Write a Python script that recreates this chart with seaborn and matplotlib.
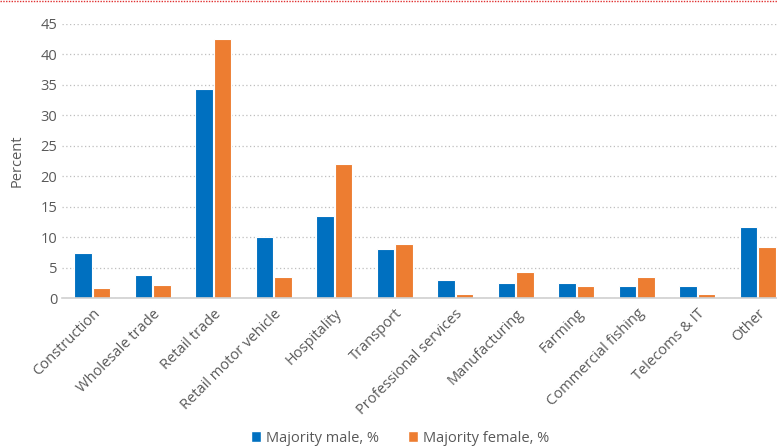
import pandas as pd
import numpy as np
import seaborn as sns
import matplotlib.pyplot as plt
from matplotlib.lines import Line2D
from matplotlib.patches import Patch

# data
categories = ['Construction', 'Wholesale trade', 'Retail trade', 'Retail motor vehicle',
              'Hospitality', 'Transport', 'Professional services', 'Manufacturing',
              'Farming', 'Commercial fishing', 'Telecoms & IT', 'Other']
male = [7.4, 3.8, 34.3, 10.0, 13.4, 8.1, 3.0, 2.4, 2.4, 1.9, 1.9, 11.7]
female = [1.7, 2.1, 42.5, 3.4, 22.0, 8.9, 0.6, 4.3, 2.0, 3.5, 0.6, 8.3]
series = ['Majority male, %', 'Majority female, %']
colors = ['#0070C0', '#ED7D31']

df = pd.DataFrame({'category': categories * 2,
                   'value': male + female,
                   'series': [series[0]] * len(categories) + [series[1]] * len(categories)})

sns.set_style('white')
plt.rcParams['font.family'] = ['Open Sans', 'DejaVu Sans']
txt = '#595959'

fig = plt.figure(figsize=(7.77, 4.47), dpi=100)
ax = fig.add_axes([62 / 777, 149 / 447, 726 / 777, 274 / 447])

sns.barplot(data=df, x='category', y='value', hue='series', palette=colors,
            saturation=1, width=0.62, gap=0.06, edgecolor='white', linewidth=0.8,
            ax=ax, legend=False)

ax.set_ylim(0, 45)
ax.set_xlim(-0.5, len(categories) - 0.5)
ax.set_yticks(range(0, 50, 5))
ax.yaxis.grid(True, linestyle=(0, (1, 2)), color='#BFBFBF', linewidth=0.9)
ax.set_axisbelow(True)
for s in ['top', 'right', 'left']:
    ax.spines[s].set_visible(False)
ax.spines['bottom'].set_color('#D0D0D0')
ax.spines['bottom'].set_linewidth(1.2)
ax.tick_params(axis='both', length=0, colors=txt, labelsize=10.5)
ax.tick_params(axis='x', pad=6)
ax.set_xticks(range(len(categories)))
ax.set_xticklabels(categories, rotation=45, ha='right', rotation_mode='anchor')
ax.set_xlabel('')
ax.set_ylabel('Percent', color=txt, fontsize=10.5)
ax.yaxis.set_label_coords(-0.052, 0.5)

handles = [Patch(facecolor=c, label=l) for c, l in zip(colors, series)]
fig.legend(handles=handles, loc='center', bbox_to_anchor=(400 / 777, 1 - 438 / 447),
           ncol=2, frameon=False, fontsize=10.5, labelcolor=txt,
           handlelength=0.7, handleheight=0.7, handletextpad=0.3, columnspacing=2.0)

# red dotted border at the top of the crop
fig.add_artist(Line2D([0, 1], [0.998, 0.998], transform=fig.transFigure,
                      color='#E03030', linestyle=(0, (1, 1)), linewidth=1))

fig.savefig('out.png', dpi=100)
